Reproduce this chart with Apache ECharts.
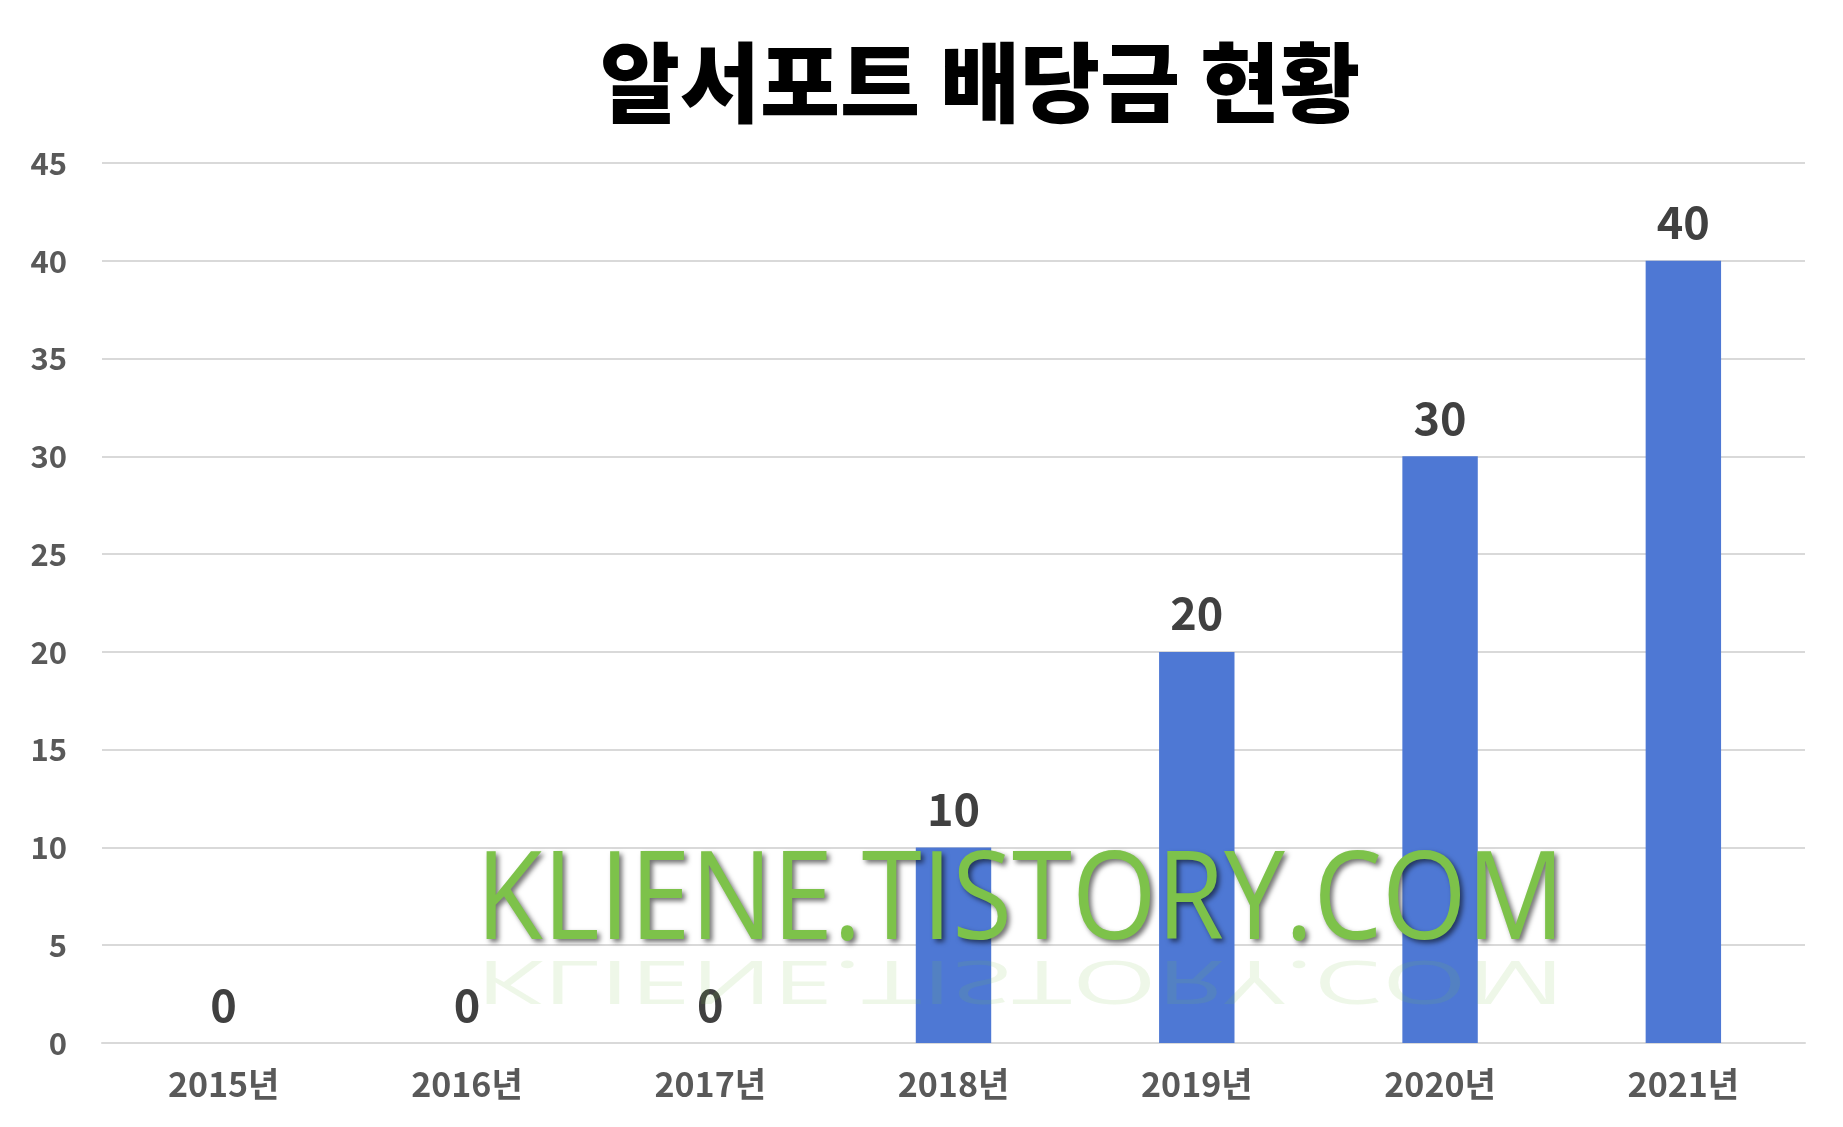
<!DOCTYPE html>
<html>
<head>
<meta charset="utf-8">
<script src="https://cdn.jsdelivr.net/npm/echarts@6/dist/echarts.min.js"></script>
<style>
html,body{margin:0;padding:0;background:#fff;}
#chart{width:1843px;height:1127px;}
</style>
</head>
<body>
<div id="chart"></div>
<script>
const titleText = '알서포트 배당금 현황';
const categories = ['2015년', '2016년', '2017년', '2018년', '2019년', '2020년', '2021년'];
const dividends = [0, 0, 0, 10, 20, 30, 40];
const yMin = 0, yMax = 45, yStep = 5;
const watermark = 'KLIENE.TISTORY.COM';

const chart = echarts.init(document.getElementById('chart'));
const FONT = '"Noto Sans CJK KR", "Noto Sans", sans-serif';

chart.setOption({
  backgroundColor: '#ffffff',
  animation: false,
  title: {
    text: titleText,
    left: 975,
    top: 34,
    textAlign: 'center',
    textStyle: { fontFamily: FONT, fontWeight: 900, fontSize: 87, color: '#000000' }
  },
  grid: { left: 102, right: 38, top: 163, bottom: 84, containLabel: false },
  xAxis: {
    type: 'category',
    data: categories,
    axisLine: { show: true, lineStyle: { color: '#d9d9d9', width: 2 } },
    axisTick: { show: false },
    axisLabel: { fontFamily: FONT, fontWeight: 'bold', fontSize: 34, color: '#595959', margin: 24 }
  },
  yAxis: {
    type: 'value',
    min: yMin, max: yMax, interval: yStep,
    axisLine: { show: false },
    axisTick: { show: false },
    splitLine: { lineStyle: { color: '#d9d9d9', width: 2 } },
    axisLabel: { fontFamily: FONT, fontWeight: 'bold', fontSize: 31, color: '#595959', margin: 35 }
  },
  series: [{
    type: 'bar',
    data: dividends,
    barWidth: '31%',
    itemStyle: { color: '#4e78d4' },
    label: {
      show: true, position: 'top', distance: 16,
      fontFamily: FONT, fontWeight: 'bold', fontSize: 45, color: '#404040'
    },
    z: 2
  }],
  graphic: [
    {
      type: 'text', x: 476, y: 948, scaleX: 0.893, scaleY: -0.5, z: 50, silent: true,
      style: {
        text: watermark, font: '122px "Open Sans"', textVerticalAlign: 'bottom',
        fill: 'rgba(126,195,74,0.13)'
      }
    },
    {
      type: 'text', x: 476, y: 904, scaleX: 0.893, z: 51, silent: true,
      style: {
        text: watermark, font: '122px "Open Sans"', textVerticalAlign: 'middle',
        fill: '#7dc24a',
        textShadowColor: 'rgba(0,0,0,0.55)', textShadowBlur: 5,
        textShadowOffsetX: 3, textShadowOffsetY: 3
      }
    }
  ]
});
</script>
</body>
</html>
